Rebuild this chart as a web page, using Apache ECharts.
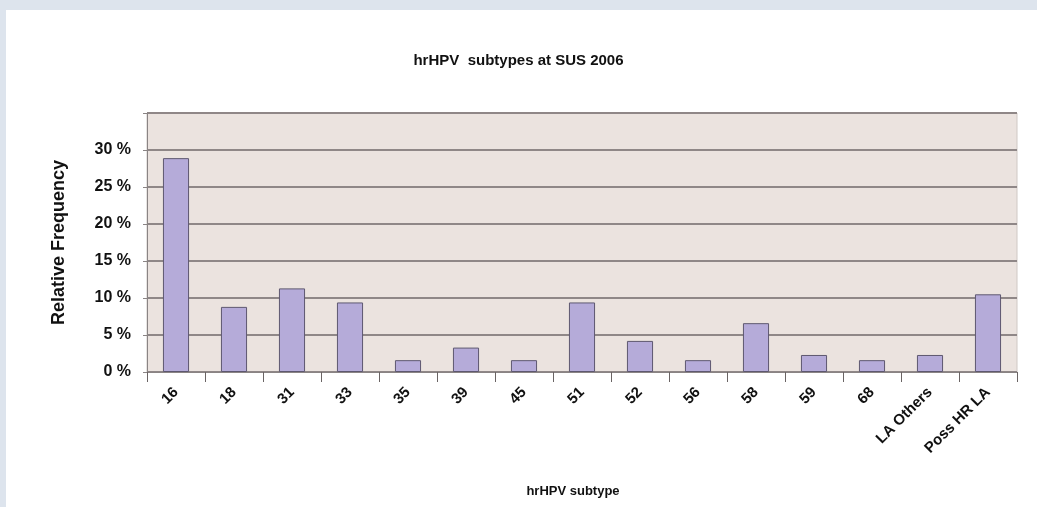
<!DOCTYPE html>
<html>
<head>
<meta charset="utf-8">
<script src="https://cdn.jsdelivr.net/npm/echarts@6/dist/echarts.min.js"></script>
<style>
  html, body { margin: 0; padding: 0; background: #dde4ed; }
  #panel { position: absolute; left: 6px; top: 10px; width: 1031px; height: 497px; background: #ffffff; }
  #chart { position: absolute; left: 0; top: 0; width: 1037px; height: 507px; }
</style>
</head>
<body>
<div id="panel"></div>
<div id="chart"></div>
<script>
const categories = ['16', '18', '31', '33', '35', '39', '45', '51', '52', '56', '58', '59', '68', 'LA Others', 'Poss HR LA'];
const frequencies = [28.9, 8.8, 11.3, 9.4, 1.6, 3.3, 1.6, 9.4, 4.2, 1.6, 6.6, 2.3, 1.6, 2.3, 10.5];
const yTicks = [0, 5, 10, 15, 20, 25, 30];

const chart = echarts.init(document.getElementById('chart'), null, { renderer: 'canvas' });
const FONT = '"Liberation Sans", Arial, sans-serif';
chart.setOption({
  backgroundColor: 'transparent',
  animation: false,
  title: {
    text: 'hrHPV  subtypes at SUS 2006',
    left: 'center',
    top: 48,
    textStyle: { fontFamily: FONT, fontSize: 15, fontWeight: 'bold', color: '#111' }
  },
  grid: {
    left: 147, right: 20, top: 113, bottom: 135,
    show: true,
    backgroundColor: '#ebe3df',
    borderColor: '#cfc8c4',
    borderWidth: 1
  },
  xAxis: {
    type: 'category',
    data: categories,
    name: 'hrHPV subtype',
    nameLocation: 'middle',
    nameGap: 113,
    nameTextStyle: { fontFamily: FONT, fontSize: 13, fontWeight: 'bold', color: '#111', padding: [0, 18, 0, 0] },
    axisLine: { show: true, lineStyle: { color: '#8a8484', width: 1 } },
    axisTick: { show: true, alignWithLabel: false, length: 10, lineStyle: { color: '#6a6464' } },
    axisLabel: {
      rotate: 45, interval: 0, margin: 18,
      fontFamily: FONT, fontSize: 15, fontWeight: 'bold', color: '#111'
    }
  },
  yAxis: {
    type: 'value',
    min: 0, max: 35, interval: 5,
    name: 'Relative Frequency',
    nameLocation: 'middle',
    nameGap: 79,
    nameRotate: 90,
    nameTextStyle: { fontFamily: FONT, fontSize: 18, fontWeight: 'bold', color: '#111' },
    axisLine: { show: true, lineStyle: { color: '#8a8484', width: 1 } },
    axisTick: { show: true, length: 4, lineStyle: { color: '#8a8484' } },
    axisLabel: {
      margin: 16,
      fontFamily: FONT, fontSize: 16, fontWeight: 'bold', color: '#111',
      formatter: function (v) { return yTicks.indexOf(v) >= 0 ? v + ' %' : ''; }
    },
    splitLine: {
      show: true,
      lineStyle: { color: '#8f8787', width: 2 }
    }
  },
  series: [{
    type: 'bar',
    data: frequencies,
    barWidth: '45%',
    itemStyle: { color: '#b5abd9', borderColor: '#5e5870', borderWidth: 1 }
  }]
});
</script>
</body>
</html>
